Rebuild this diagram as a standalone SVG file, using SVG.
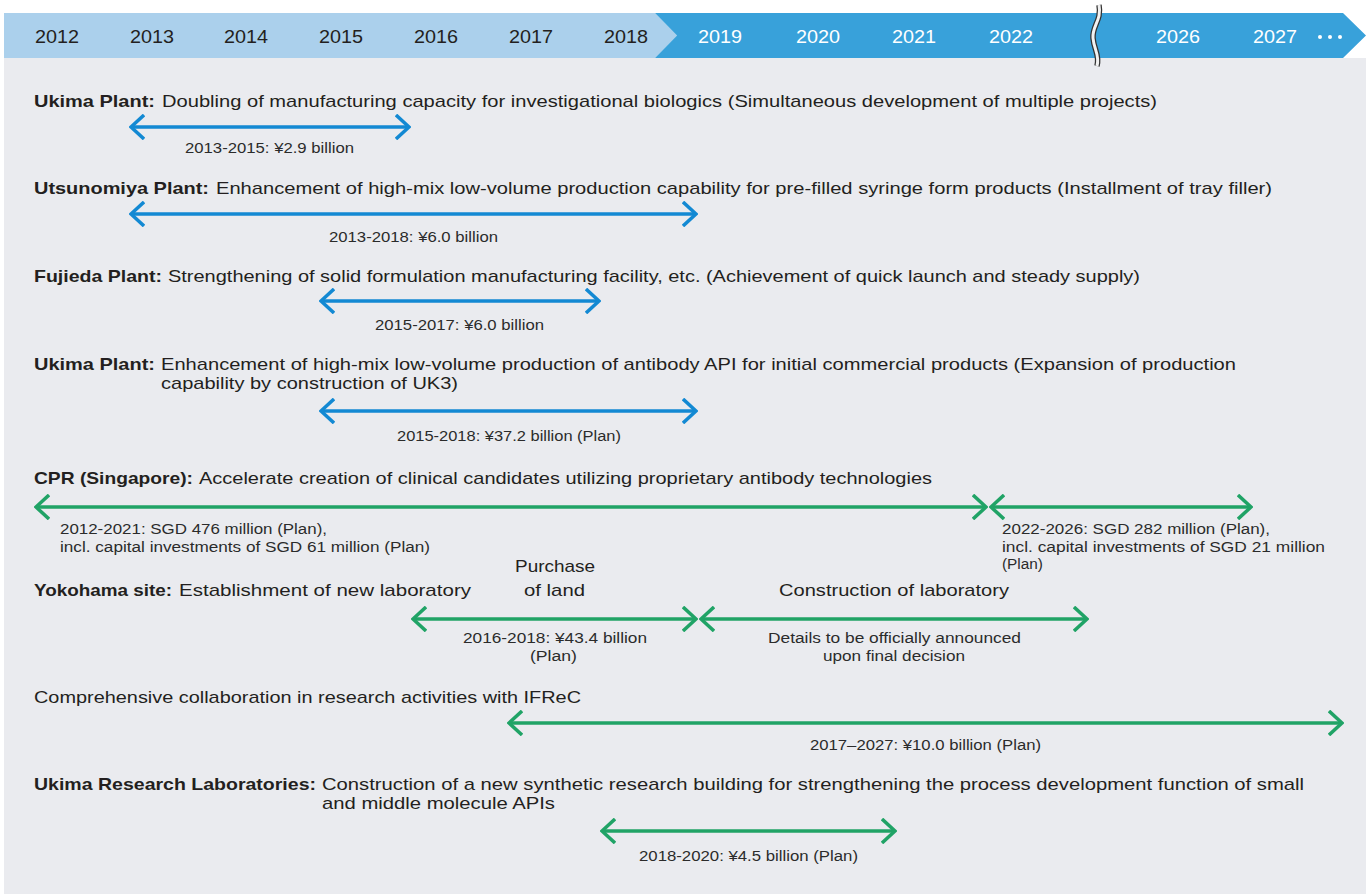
<svg xmlns="http://www.w3.org/2000/svg" width="1370" height="894" viewBox="0 0 1370 894">
  <style>
    .yr { font-family: "Liberation Sans", Arial, sans-serif; font-size: 19px; text-anchor: middle; }
    .yl { fill: #231f20; }
    .yd { fill: #ffffff; }
    .t { font-family: "Liberation Sans", Arial, sans-serif; font-size: 17px; fill: #231f20; }
    .b { font-weight: bold; }
    .s { font-family: "Liberation Sans", Arial, sans-serif; font-size: 14px; fill: #2b2b2b; }
    .blue { stroke: #1389d3; stroke-width: 3.5; fill: none; }
    .green { stroke: #20a366; stroke-width: 3.5; fill: none; }
  </style>
  <defs>
    <marker id="hb" viewBox="0 0 16 26" refX="14" refY="13" markerWidth="16" markerHeight="26" markerUnits="userSpaceOnUse" orient="auto-start-reverse">
      <path d="M1,1 L14,13 L1,25" fill="none" stroke="#1389d3" stroke-width="3.5"/>
    </marker>
    <marker id="hg" viewBox="0 0 16 26" refX="14" refY="13" markerWidth="16" markerHeight="26" markerUnits="userSpaceOnUse" orient="auto-start-reverse">
      <path d="M1,1 L14,13 L1,25" fill="none" stroke="#20a366" stroke-width="3.5"/>
    </marker>
  </defs>

  <rect width="1370" height="894" fill="#ffffff"/>
  <!-- panel -->
  <rect x="4" y="58" width="1362" height="836" fill="#eaebef"/>

  <!-- year band -->
  <g id="timeline">
    <polygon points="4,13 655,13 677,35.5 655,58 4,58" fill="#abd0ec"/>
    <polygon points="655,13 1343,13 1366,35.5 1343,58 655,58 677,35.5" fill="#38a1da"/>
    <text class="yr yl" x="57" y="43" textLength="44" lengthAdjust="spacingAndGlyphs">2012</text>
    <text class="yr yl" x="152" y="43" textLength="44" lengthAdjust="spacingAndGlyphs">2013</text>
    <text class="yr yl" x="246" y="43" textLength="44" lengthAdjust="spacingAndGlyphs">2014</text>
    <text class="yr yl" x="341" y="43" textLength="44" lengthAdjust="spacingAndGlyphs">2015</text>
    <text class="yr yl" x="436" y="43" textLength="44" lengthAdjust="spacingAndGlyphs">2016</text>
    <text class="yr yl" x="531" y="43" textLength="44" lengthAdjust="spacingAndGlyphs">2017</text>
    <text class="yr yl" x="626" y="43" textLength="44" lengthAdjust="spacingAndGlyphs">2018</text>
    <text class="yr yd" x="720" y="43" textLength="44" lengthAdjust="spacingAndGlyphs">2019</text>
    <text class="yr yd" x="818" y="43" textLength="44" lengthAdjust="spacingAndGlyphs">2020</text>
    <text class="yr yd" x="914" y="43" textLength="44" lengthAdjust="spacingAndGlyphs">2021</text>
    <text class="yr yd" x="1011" y="43" textLength="44" lengthAdjust="spacingAndGlyphs">2022</text>
    <text class="yr yd" x="1178" y="43" textLength="44" lengthAdjust="spacingAndGlyphs">2026</text>
    <text class="yr yd" x="1275" y="43" textLength="44" lengthAdjust="spacingAndGlyphs">2027</text>
    <g fill="#ffffff">
      <circle cx="1320" cy="37" r="2"/>
      <circle cx="1330" cy="37" r="2"/>
      <circle cx="1340" cy="37" r="2"/>
    </g>
    <!-- axis break -->
    <path d="M1099,5 C1102,20 1092,26 1093,38 C1094,50 1100,55 1097,66" fill="none" stroke="#333333" stroke-width="5.5"/>
    <path d="M1099,5 C1102,20 1092,26 1093,38 C1094,50 1100,55 1097,66" fill="none" stroke="#f2f2f2" stroke-width="3"/>
  </g>

  <!-- connectors -->
  <g id="connectors">
    <path class="blue" d="M131,127 H409" marker-start="url(#hb)" marker-end="url(#hb)"/>
    <path class="blue" d="M131,214 H696" marker-start="url(#hb)" marker-end="url(#hb)"/>
    <path class="blue" d="M321,301 H599" marker-start="url(#hb)" marker-end="url(#hb)"/>
    <path class="blue" d="M321,411 H696" marker-start="url(#hb)" marker-end="url(#hb)"/>
    <path class="green" d="M36,507 H986" marker-start="url(#hg)" marker-end="url(#hg)"/>
    <path class="green" d="M991,507 H1251" marker-start="url(#hg)" marker-end="url(#hg)"/>
    <path class="green" d="M413,619 H696" marker-start="url(#hg)" marker-end="url(#hg)"/>
    <path class="green" d="M701,619 H1087" marker-start="url(#hg)" marker-end="url(#hg)"/>
    <path class="green" d="M509,723 H1342" marker-start="url(#hg)" marker-end="url(#hg)"/>
    <path class="green" d="M602,831 H895" marker-start="url(#hg)" marker-end="url(#hg)"/>
  </g>

  <g id="ukima-plant-1">
    <text class="t b" x="34" y="107" textLength="121" lengthAdjust="spacingAndGlyphs">Ukima Plant:</text>
    <text class="t" x="162" y="107" textLength="995" lengthAdjust="spacingAndGlyphs">Doubling of manufacturing capacity for investigational biologics (Simultaneous development of multiple projects)</text>
    <text class="s" x="185" y="153" textLength="169" lengthAdjust="spacingAndGlyphs">2013-2015: ¥2.9 billion</text>
  </g>

  <g id="utsunomiya-plant">
    <text class="t b" x="34" y="194" textLength="175" lengthAdjust="spacingAndGlyphs">Utsunomiya Plant:</text>
    <text class="t" x="216" y="194" textLength="1056" lengthAdjust="spacingAndGlyphs">Enhancement of high-mix low-volume production capability for pre-filled syringe form products (Installment of tray filler)</text>
    <text class="s" x="329" y="242" textLength="169" lengthAdjust="spacingAndGlyphs">2013-2018: ¥6.0 billion</text>
  </g>

  <g id="fujieda-plant">
    <text class="t b" x="34" y="282" textLength="128" lengthAdjust="spacingAndGlyphs">Fujieda Plant:</text>
    <text class="t" x="168" y="282" textLength="972" lengthAdjust="spacingAndGlyphs">Strengthening of solid formulation manufacturing facility, etc. (Achievement of quick launch and steady supply)</text>
    <text class="s" x="375" y="330" textLength="169" lengthAdjust="spacingAndGlyphs">2015-2017: ¥6.0 billion</text>
  </g>

  <g id="ukima-plant-2">
    <text class="t b" x="34" y="370" textLength="121" lengthAdjust="spacingAndGlyphs">Ukima Plant:</text>
    <text class="t" x="161" y="370" textLength="1075" lengthAdjust="spacingAndGlyphs">Enhancement of high-mix low-volume production of antibody API for initial commercial products (Expansion of production</text>
    <text class="t" x="161" y="389" textLength="297" lengthAdjust="spacingAndGlyphs">capability by construction of UK3)</text>
    <text class="s" x="397" y="441" textLength="224" lengthAdjust="spacingAndGlyphs">2015-2018: ¥37.2 billion (Plan)</text>
  </g>

  <g id="cpr-singapore">
    <text class="t b" x="34" y="484" textLength="159" lengthAdjust="spacingAndGlyphs">CPR (Singapore):</text>
    <text class="t" x="199" y="484" textLength="733" lengthAdjust="spacingAndGlyphs">Accelerate creation of clinical candidates utilizing proprietary antibody technologies</text>
    <text class="s" x="60" y="534" textLength="267" lengthAdjust="spacingAndGlyphs">2012-2021: SGD 476 million (Plan),</text>
    <text class="s" x="60" y="552" textLength="370" lengthAdjust="spacingAndGlyphs">incl. capital investments of SGD 61 million (Plan)</text>
    <text class="s" x="1002" y="534" textLength="268" lengthAdjust="spacingAndGlyphs">2022-2026: SGD 282 million (Plan),</text>
    <text class="s" x="1002" y="552" textLength="323" lengthAdjust="spacingAndGlyphs">incl. capital investments of SGD 21 million</text>
    <text class="s" x="1002" y="569" textLength="41" lengthAdjust="spacingAndGlyphs">(Plan)</text>
  </g>

  <g id="yokohama-site">
    <text class="t b" x="34" y="596" textLength="138" lengthAdjust="spacingAndGlyphs">Yokohama site:</text>
    <text class="t" x="179" y="596" textLength="292" lengthAdjust="spacingAndGlyphs">Establishment of new laboratory</text>
    <text class="t" x="515" y="572" textLength="80" lengthAdjust="spacingAndGlyphs">Purchase</text>
    <text class="t" x="524" y="596" textLength="61" lengthAdjust="spacingAndGlyphs">of land</text>
    <text class="t" x="779" y="596" textLength="230" lengthAdjust="spacingAndGlyphs">Construction of laboratory</text>
    <text class="s" x="463" y="643" textLength="184" lengthAdjust="spacingAndGlyphs">2016-2018: ¥43.4 billion</text>
    <text class="s" x="530" y="661" textLength="47" lengthAdjust="spacingAndGlyphs">(Plan)</text>
    <text class="s" x="768" y="643" textLength="253" lengthAdjust="spacingAndGlyphs">Details to be officially announced</text>
    <text class="s" x="823" y="661" textLength="142" lengthAdjust="spacingAndGlyphs">upon final decision</text>
  </g>

  <g id="ifrec">
    <text class="t" x="34" y="703" textLength="547" lengthAdjust="spacingAndGlyphs">Comprehensive collaboration in research activities with IFReC</text>
    <text class="s" x="810" y="750" textLength="231" lengthAdjust="spacingAndGlyphs">2017–2027: ¥10.0 billion (Plan)</text>
  </g>

  <g id="ukima-research-labs">
    <text class="t b" x="34" y="790" textLength="282" lengthAdjust="spacingAndGlyphs">Ukima Research Laboratories:</text>
    <text class="t" x="322" y="790" textLength="982" lengthAdjust="spacingAndGlyphs">Construction of a new synthetic research building for strengthening the process development function of small</text>
    <text class="t" x="322" y="809" textLength="233" lengthAdjust="spacingAndGlyphs">and middle molecule APIs</text>
    <text class="s" x="639" y="861" textLength="219" lengthAdjust="spacingAndGlyphs">2018-2020: ¥4.5 billion (Plan)</text>
  </g>
</svg>
